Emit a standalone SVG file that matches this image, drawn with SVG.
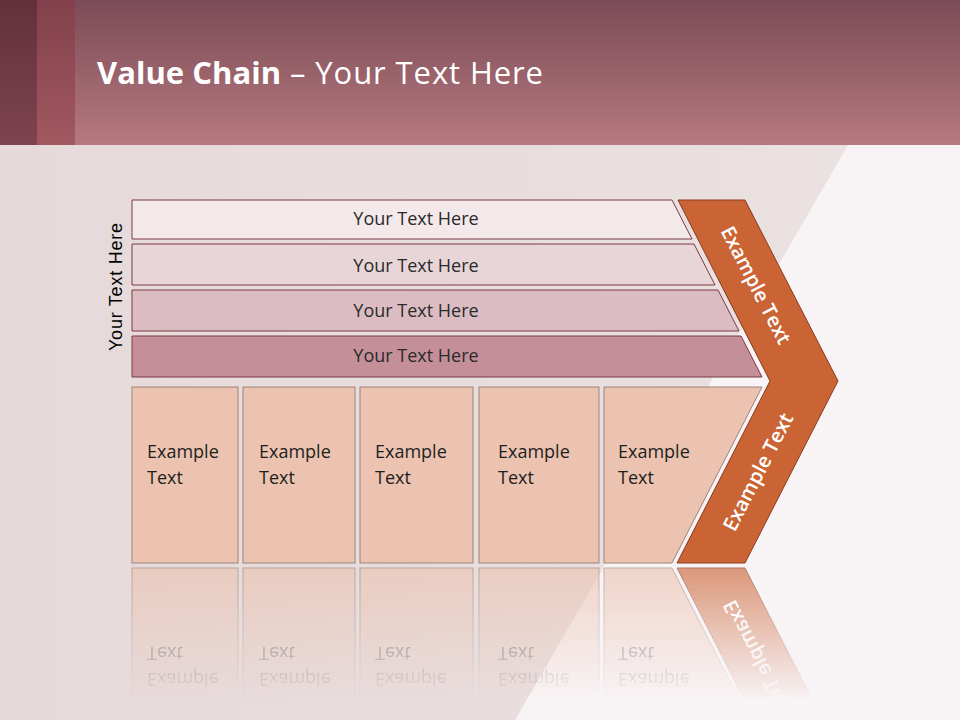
<svg xmlns="http://www.w3.org/2000/svg" xmlns:xlink="http://www.w3.org/1999/xlink" width="960" height="720" viewBox="0 0 960 720">
<defs>
<linearGradient id="hdr" x1="0" y1="0" x2="0" y2="1"><stop offset="0" stop-color="#7b4b57"/><stop offset="1" stop-color="#b7797f"/></linearGradient>
<linearGradient id="s1" x1="0" y1="0" x2="0" y2="1"><stop offset="0" stop-color="#62303b"/><stop offset="1" stop-color="#7e4450"/></linearGradient>
<linearGradient id="s2" x1="0" y1="0" x2="0" y2="1"><stop offset="0" stop-color="#82414c"/><stop offset="1" stop-color="#a2585f"/></linearGradient>
<linearGradient id="bg" x1="0" y1="0" x2="1" y2="0"><stop offset="0" stop-color="#e6d9d9"/><stop offset="1" stop-color="#ebe2e2"/></linearGradient>
<linearGradient id="fadeGrad" gradientUnits="userSpaceOnUse" x1="0" y1="566" x2="0" y2="700"><stop offset="0" stop-color="#fff" stop-opacity="0.65"/><stop offset="1" stop-color="#fff" stop-opacity="0"/></linearGradient>
<mask id="fade" maskUnits="userSpaceOnUse" x="0" y="566" width="960" height="154"><rect x="0" y="566" width="960" height="154" fill="url(#fadeGrad)"/></mask>
<style>
.title{font-family:"Open Sans","Liberation Sans",sans-serif;font-size:31px;fill:#ffffff}
.bar{stroke:#7a3a42;stroke-width:1}
.bt{font-family:"Open Sans","Liberation Sans",sans-serif;font-size:18px;fill:#2a2a2a;text-anchor:middle}
.box{fill:#ebc3b0;stroke:#9c8478;stroke-width:1}
.xt{font-family:"Open Sans","Liberation Sans",sans-serif;font-size:18px;fill:#1e1e1e}
.chev{fill:#cb6434;stroke:#8a3a20;stroke-width:1}
.ct{font-family:"Open Sans","Liberation Sans",sans-serif;font-size:20px;font-weight:600;fill:#ffffff;text-anchor:middle}
.vt{font-family:"Liberation Sans",Arial,sans-serif;font-size:18px;fill:#000;text-anchor:middle}
</style>
</defs>
<rect x="0" y="0" width="960" height="720" fill="url(#bg)"/>
<polygon points="848,145 960,145 960,720 515,720" fill="#f8f3f5"/>
<rect x="0" y="0" width="960" height="145" fill="url(#hdr)"/>
<rect x="0" y="0" width="37" height="145" fill="url(#s1)"/>
<rect x="37" y="0" width="38" height="145" fill="url(#s2)"/>
<text class="title" x="97" y="84" font-weight="bold" textLength="184" lengthAdjust="spacing">Value Chain</text>
<text class="title" x="290" y="84" textLength="253" lengthAdjust="spacing">– Your Text Here</text>

<g id="side-label"><text class="vt" transform="translate(122,287) rotate(-90)" textLength="128" lengthAdjust="spacing">Your Text Here</text></g>

<g id="bar1"><polygon class="bar" fill="#f3e8ea" points="132,200 672,200 692,239 132,239"/><text class="bt" x="416" y="225">Your Text Here</text></g>
<g id="bar2"><polygon class="bar" fill="#e8d5d8" points="132,244 694,244 715,285 132,285"/><text class="bt" x="416" y="272">Your Text Here</text></g>
<g id="bar3"><polygon class="bar" fill="#dcbcc3" points="132,290 718,290 739,331 132,331"/><text class="bt" x="416" y="317">Your Text Here</text></g>
<g id="bar4"><polygon class="bar" fill="#c48f99" points="132,336 741,336 762,377 132,377"/><text class="bt" x="416" y="362">Your Text Here</text></g>

<g id="lower">
<g id="box1"><rect class="box" x="132" y="387" width="106" height="176"/><text class="xt" x="147" y="458">Example</text><text class="xt" x="147" y="484">Text</text></g>
<g id="box2"><rect class="box" x="243" y="387" width="112" height="176"/><text class="xt" x="259" y="458">Example</text><text class="xt" x="259" y="484">Text</text></g>
<g id="box3"><rect class="box" x="360" y="387" width="113" height="176"/><text class="xt" x="375" y="458">Example</text><text class="xt" x="375" y="484">Text</text></g>
<g id="box4"><rect class="box" x="479" y="387" width="120" height="176"/><text class="xt" x="498" y="458">Example</text><text class="xt" x="498" y="484">Text</text></g>
<g id="box5"><polygon class="box" points="604,387 762,387 672,563 604,563"/><text class="xt" x="618" y="458">Example</text><text class="xt" x="618" y="484">Text</text></g>
<g id="chevron"><polygon class="chev" points="678,200 745,200 838,381 745,563 677,563 770,381"/>
<text class="ct" transform="translate(756,285) rotate(62.8)" dy="7">Example Text</text>
<text class="ct" transform="translate(758,472) rotate(-62.8)" dy="7">Example Text</text></g>
</g>

<g id="reflection" mask="url(#fade)"><use xlink:href="#lower" transform="translate(0,1131) scale(1,-1)"/></g>
</svg>
